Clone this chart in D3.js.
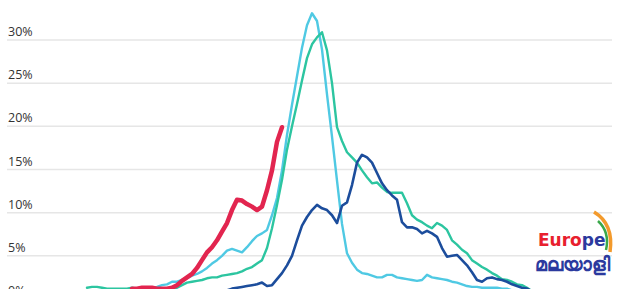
<!DOCTYPE html>
<html>
<head>
<meta charset="utf-8">
<script src="https://cdn.jsdelivr.net/npm/d3@7"></script>
<style>
  body { margin: 0; background: #fff; }
  svg { display: block; font-family: "Open Sans", "Noto Sans", sans-serif; }
</style>
</head>
<body>
<svg id="chart" width="621" height="289"></svg>
<script>
// Tick labels on the y axis (percent)
const yTicks = [0, 5, 10, 15, 20, 25, 30];

// Each series: index of the first point on the shared x axis + percent values
const greenStart = 16;
const greenValues = [1.3, 1.4, 1.4, 1.3, 1.2, 1.2, 1.2, 1.2, 1.2, 1.3, 1.2, 1.2, 1.0, 1.0, 1.0, 1.0, 1.0,
  1.2, 1.3, 1.6, 1.9, 2.0, 2.1, 2.2, 2.4, 2.5, 2.5, 2.7, 2.8, 2.9, 3.0, 3.2, 3.5, 3.7, 4.1, 4.5,
  5.9, 8.2, 10.9, 13.8, 17.3, 20.0, 22.6, 25.3, 27.9, 29.5, 30.3, 30.9, 28.8, 25.0, 19.9, 18.3,
  17.0, 16.4, 15.8, 14.9, 14.1, 13.4, 13.5, 12.9, 12.4, 12.3, 12.3, 12.3, 11.1, 9.7, 9.2, 8.9,
  8.5, 8.2, 8.8, 8.5, 8.0, 6.8, 6.3, 5.7, 5.3, 4.5, 4.1, 3.7, 3.4, 3.0, 2.7, 2.3, 2.2, 2.0,
  1.7, 1.6, 1.3, 0.9];

const cyanStart = 28;
const cyanValues = [1.2, 1.3, 1.4, 1.6, 1.7, 2.0, 2.0, 2.2, 2.4, 2.7, 2.9, 3.2, 3.6, 4.1, 4.5,
  5.0, 5.6, 5.8, 5.6, 5.4, 6.0, 6.7, 7.3, 7.6, 8.0, 9.7, 11.7, 14.9, 19.0, 22.5, 25.8, 29.1,
  31.7, 33.1, 32.2, 28.9, 23.7, 18.8, 13.7, 8.7, 5.3, 4.2, 3.4, 3.0, 2.9, 2.7, 2.5, 2.5, 2.8,
  2.8, 2.5, 2.4, 2.3, 2.2, 2.1, 2.2, 2.8, 2.5, 2.4, 2.3, 2.2, 2.0, 1.9, 1.7, 1.5, 1.4, 1.4,
  1.3, 1.3, 1.3, 1.3, 1.2, 1.2, 1.0, 0.9];

const navyStart = 44;
const navyValues = [1.0, 1.2, 1.3, 1.4, 1.5, 1.6, 1.7, 1.9, 1.5, 1.6, 2.3, 3.0, 3.9, 5.0, 6.8,
  8.5, 9.5, 10.3, 10.9, 10.5, 10.3, 9.7, 8.8, 10.8, 11.2, 13.2, 15.8, 16.7, 16.4, 15.8, 14.6,
  13.4, 12.6, 12.0, 11.5, 8.9, 8.3, 8.3, 8.1, 7.6, 7.9, 7.6, 7.2, 5.9, 4.9, 5.0, 5.1, 4.5,
  3.9, 3.1, 2.2, 2.0, 2.4, 2.5, 2.3, 2.2, 2.0, 1.7, 1.5, 1.3, 1.2, 0.9];

const redStart = 25;
const redValues = [1.2, 1.2, 1.3, 1.3, 1.3, 1.2, 1.2, 1.2, 1.3, 1.6, 2.1, 2.5, 2.9, 3.6, 4.5,
  5.4, 6.0, 6.8, 7.8, 8.8, 10.3, 11.5, 11.4, 11.0, 10.7, 10.3, 10.7, 12.6, 14.9, 18.2, 19.9];

const margin = { left: 7, right: 9 };
const width = 621, height = 289;

const svg = d3.select('#chart');

const x = d3.scaleLinear().domain([0, 121]).range([margin.left, width - margin.right]);
const y = d3.scaleLinear().domain([0, 30]).range([299, 40]);

// gridlines + labels sitting above each line
const grid = svg.append('g');
yTicks.forEach(t => {
  grid.append('line')
    .attr('x1', x(0)).attr('x2', x(121))
    .attr('y1', y(t)).attr('y2', y(t))
    .attr('stroke', '#e6e6e6')
    .attr('stroke-width', 1.5);
  grid.append('text')
    .attr('x', 8)
    .attr('y', y(t) - 4)
    .attr('fill', '#333')
    .style('font-size', '12.5px')
    .text(t + '%');
});

function toPoints(start, values) {
  return values.map((v, i) => ({ i: start + i, v: v }));
}

const line = d3.line()
  .x(d => x(d.i))
  .y(d => y(d.v));

const series = [
  { data: toPoints(cyanStart, cyanValues), color: '#4fc9e3', w: 2.4 },
  { data: toPoints(greenStart, greenValues), color: '#2cc5a0', w: 2.4 },
  { data: toPoints(navyStart, navyValues), color: '#1c4d9c', w: 2.6 },
  { data: toPoints(redStart, redValues), color: '#e2254f', w: 4.5 }
];

series.forEach(s => {
  svg.append('path')
    .datum(s.data)
    .attr('fill', 'none')
    .attr('stroke', s.color)
    .attr('stroke-width', s.w)
    .attr('stroke-linejoin', 'round')
    .attr('stroke-linecap', 'round')
    .attr('d', line);
});

// watermark logo, bottom right
const logo = svg.append('g').attr('transform', 'translate(538, 246)');
logo.append('path')
  .attr('d', 'M 56 -34 Q 76 -22 72 6')
  .attr('fill', 'none').attr('stroke', '#f39a2c').attr('stroke-width', 3.5);
logo.append('path')
  .attr('d', 'M 60 -25 Q 72 -14 68 4')
  .attr('fill', 'none').attr('stroke', '#3aa84a').attr('stroke-width', 2.5);
const word = logo.append('text')
  .attr('x', 0).attr('y', 0)
  .style('font-family', '"DejaVu Sans", sans-serif')
  .style('font-weight', 'bold')
  .style('font-size', '17px');
word.append('tspan').attr('fill', '#e8202e').text('Euro');
word.append('tspan').attr('fill', '#2b3a9e').text('pe');
logo.append('text')
  .attr('x', 34).attr('y', 25)
  .attr('text-anchor', 'middle')
  .attr('fill', '#2b3a9e')
  .style('font-weight', 'bold')
  .style('font-size', '19px')
  .text('മലയാളി');
</script>
</body>
</html>
